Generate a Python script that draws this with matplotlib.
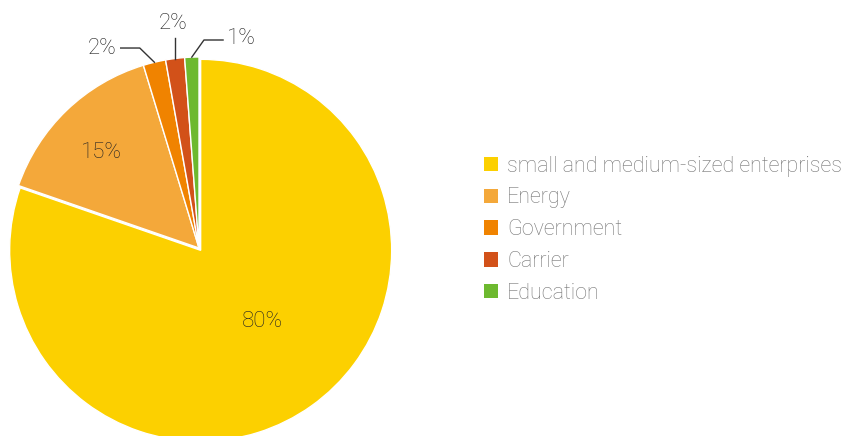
import numpy as np
import matplotlib.pyplot as plt
from matplotlib.patches import Patch

plt.rcParams['font.family'] = ['Roboto', 'DejaVu Sans']

# sector shares (percent)
sectors = ['small and medium-sized enterprises', 'Energy', 'Government', 'Carrier', 'Education']
shares = [80.3, 15.0, 1.9, 1.6, 1.2]
colors = ['#FCD000', '#F4A83A', '#F08300', '#D25119', '#6DB92F']

W, H = 849, 436
fig = plt.figure(figsize=(W / 100, H / 100), dpi=100)

# pie sits in a square box, centre (199, 248) px, radius 191 px
cx, cy, r = 199, 248, 191
ax = fig.add_axes([(cx - r) / W, (H - cy - r) / H, 2 * r / W, 2 * r / H])

wedges, _ = ax.pie(shares, colors=colors, startangle=90, counterclock=False,
                   explode=[0.015, 0, 0, 0, 0],
                   wedgeprops=dict(edgecolor='white', linewidth=1.0))
ax.set_xlim(-1, 1)
ax.set_ylim(-1, 1)
for w in wedges:
    w.set_clip_on(False)

total = sum(shares)
labels = [f"{round(v / total * 100)}%" for v in shares]
txt = dict(fontsize=16, color='#222222', fontweight='light')

# big slices: labels inside (radius fraction, angle tweak in degrees)
for i, dist, da in [(0, 0.5, 6), (1, 0.72, 1)]:
    w = wedges[i]
    a = np.deg2rad((w.theta1 + w.theta2) / 2 + da)
    ax.text(dist * np.cos(a), dist * np.sin(a) - 0.01, labels[i], ha='center', va='center', **txt)

# small slices: leader lines to labels outside
def rim(i):
    w = wedges[i]
    a = np.deg2rad((w.theta1 + w.theta2) / 2)
    return np.cos(a), np.sin(a)

lk = dict(color='#333333', lw=1.0, clip_on=False)

x0, y0 = rim(2)
ax.plot([x0, -0.31, -0.41], [y0, 1.047, 1.047], **lk)
ax.text(-0.43, 1.047, labels[2], ha='right', va='center', **txt)

x0, y0 = rim(3)
ax.plot([x0, x0], [y0, 1.10], **lk)
ax.text(x0 - 0.01, 1.12, labels[3], ha='center', va='bottom', **txt)

x0, y0 = rim(4)
ax.plot([x0, 0.026, 0.126], [y0, 1.089, 1.089], **lk)
ax.text(0.146, 1.095, labels[4], ha='left', va='center', **txt)

handles = [Patch(facecolor=c, edgecolor='none') for c in colors]
leg = fig.legend(handles, sectors, loc='upper left', bbox_to_anchor=(475 / W, 1 - 147 / H),
                 frameon=False, fontsize=15.5, handlelength=0.65, handleheight=0.65,
                 handletextpad=0.45, labelspacing=0.5, borderaxespad=0)
for t in leg.get_texts():
    t.set_color('#757575')
    t.set_fontweight('light')

fig.savefig('out.png', dpi=100)
